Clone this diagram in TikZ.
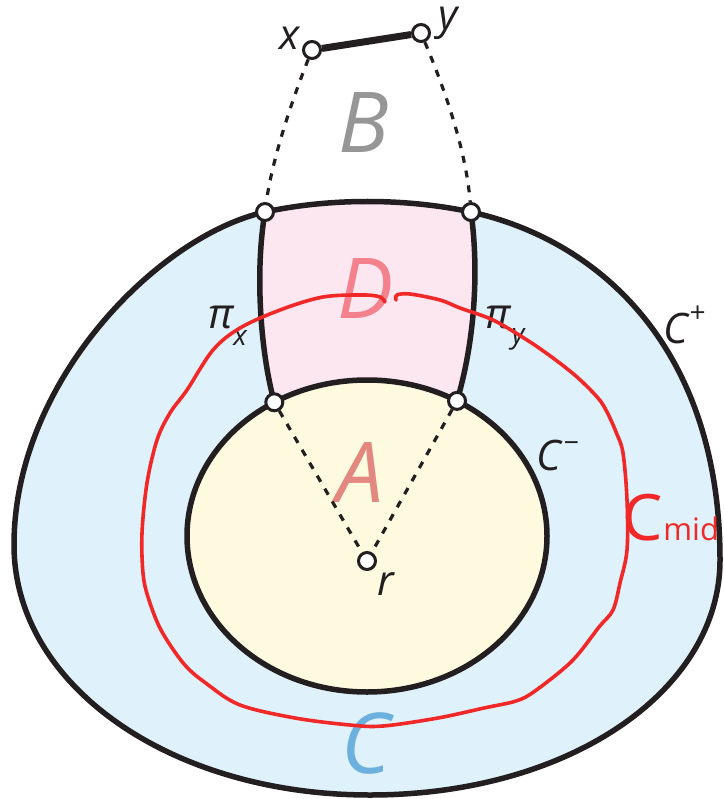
\documentclass[tikz,border=0pt]{standalone}
\usepackage{fontspec}
\setmainfont{Open Sans}
\definecolor{ink}{RGB}{35,31,32}
\definecolor{bluef}{RGB}{223,241,250}
\definecolor{pinkf}{RGB}{252,230,240}
\definecolor{yellowf}{RGB}{254,250,223}
\definecolor{grayt}{RGB}{150,150,150}
\definecolor{dcol}{RGB}{244,130,142}
\definecolor{acol}{RGB}{226,136,128}
\definecolor{ccol}{RGB}{108,176,222}
\definecolor{redc}{RGB}{240,40,40}
\begin{document}
\begin{tikzpicture}[x=1pt,y=-1pt]
\tikzset{
 outline/.style={line width=5.5pt, draw=ink},
 dashline/.style={line width=3.2pt, dash pattern=on 7pt off 8pt, draw=ink},
 vtx/.style={circle, draw=ink, fill=white, line width=3pt, minimum size=17pt, inner sep=0pt},
 big/.style={font=\itshape\fontsize{84}{84}\selectfont, anchor=base, inner sep=0pt},
 lbl/.style={font=\itshape\fontsize{42}{42}\selectfont, anchor=base, text=ink, inner sep=0pt},
 sublbl/.style={font=\itshape\fontsize{28}{28}\selectfont, anchor=base, text=ink, inner sep=0pt},
 redline/.style={draw=redc, line width=3.6pt, line cap=round, line join=round},
}
\useasboundingbox (0,0) rectangle (723,799);
% key points
\coordinate (L) at (14,545);
\coordinate (P1) at (265,212);
\coordinate (P2) at (471,212);
\coordinate (R) at (720,560);
\coordinate (Bt) at (370,795);
\coordinate (O) at (367,536);
\coordinate (Q1) at (274.3,402.3);
\coordinate (Q2) at (457,400.9);
% outer region C+
\fill[bluef] (L) .. controls (14,380) and (160,235) .. (P1)
  .. controls (330,198) and (405,198) .. (P2)
  .. controls (601,240.6) and (720,350) .. (R)
  .. controls (720,690) and (570,795) .. (Bt)
  .. controls (170,795) and (14,685) .. (L) -- cycle;
% inner region A
\fill[yellowf] (O) ellipse [x radius=180, y radius=156];
% region D
\fill[pinkf] (P1) .. controls (330,198) and (405,198) .. (P2)
  .. controls (479,270) and (475,340) .. (Q2)
  arc[start angle=-60, end angle=-121, x radius=180, y radius=156]
  .. controls (260,350) and (255,270) .. (P1) -- cycle;
% labels (big letters)
\node[big, text=grayt] (lB) at (364,153) {B};
\node[big, text=dcol] (lD) at (366,318) {D};
\node[big, text=acol] (lA) at (360,502) {A};
\node[big, text=ccol] (lC) at (366,773) {C};
% outlines
\draw[outline] (L) .. controls (14,380) and (160,235) .. (P1)
  .. controls (330,198) and (405,198) .. (P2)
  .. controls (601,240.6) and (720,350) .. (R)
  .. controls (720,690) and (570,795) .. (Bt)
  .. controls (170,795) and (14,685) .. (L) -- cycle;
\draw[outline] (O) ellipse [x radius=180, y radius=156];
\draw[outline] (P2) .. controls (479,270) and (475,340) .. (Q2);
\draw[outline] (Q1) .. controls (260,350) and (255,270) .. (P1);
% vertices
\node[vtx] (nx) at (312,50) {};
\node[vtx] (ny) at (421,33) {};
\node[vtx] (p1) at (P1) {};
\node[vtx] (p2) at (P2) {};
\node[vtx] (q1) at (Q1) {};
\node[vtx] (q2) at (Q2) {};
\node[vtx] (nr) at (367,561) {};
% connectors
\draw[ink, line width=7pt] (nx) -- (ny);
\draw[dashline] (nx) .. controls (292,100) and (272,160) .. (p1);
\draw[dashline] (ny) .. controls (445,90) and (466,150) .. (p2);
\draw[dashline] (q1) -- (nr);
\draw[dashline] (q2) -- (nr);
% small labels
\node[lbl] (tx) at (290,50) {x};
\node[lbl] (ty) at (448,30) {y};
\node[lbl] (tr) at (386,595) {r};
\node[lbl] (tpix) at (221,328) {π};
\node[sublbl] (tpixs) at (240,345) {x};
\node[lbl] (tpiy) at (498,328) {π};
\node[sublbl] (tpiys) at (518,343) {y};
\node[lbl] (tcp) at (676,343) {C};
\node[sublbl] (tcps) at (697,322) {+};
\node[lbl] (tcm) at (549,470) {C};
\node[sublbl] (tcms) at (571,452) {\char"2212};
% red curve
\draw[redline] plot[smooth, tension=0.55] coordinates {
 (396,300) (397,295) (410,294) (440,300) (460,308) (493,320) (527,340)
 (553,358) (577,377) (598,398) (607,412) (616,432) (623,453) (627,500)
 (627,550) (620,583) (613,610) (599,627) (572,661) (535,691) (516,701)
 (484,708) (438,718) (383,726) (350,725) (295,718) (240,705) (207,684)
 (184,664) (161,630) (148,597) (143,573) (142,533) (147,483) (157,440)
 (170,413) (187,390) (213,350) (240,328) (280,310) (323,297) (364,295)
 (380,297) (385,302)};
\node[anchor=base, inner sep=0pt, text=redc] (tcmid) at (671,540)
 {{\fontsize{64}{64}\selectfont C}{\fontsize{31}{31}\selectfont mid}};
\end{tikzpicture}
\end{document}
